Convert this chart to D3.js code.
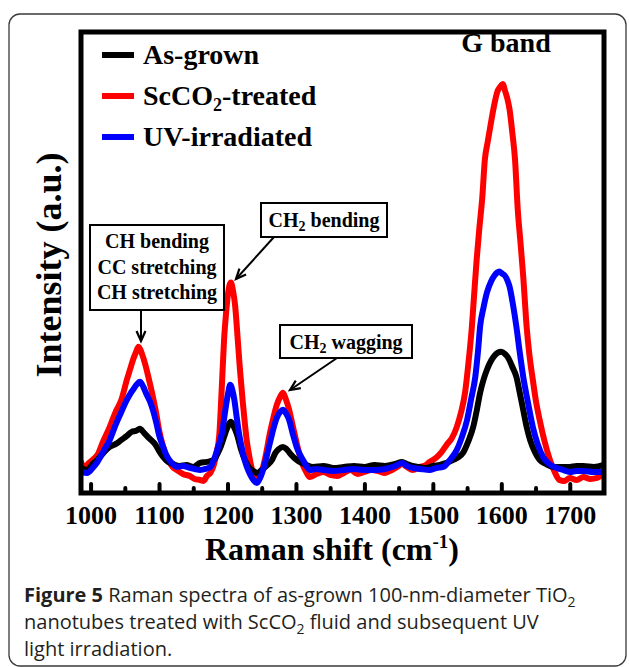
<!DOCTYPE html>
<html><head><meta charset="utf-8">
<script src="https://cdn.jsdelivr.net/npm/d3@7"></script>
<style>body{margin:0;background:#fff}svg{display:block}</style>
</head><body><svg id="c" width="629" height="667"></svg>
<script>
// ---- data (Raman shift cm-1, intensity a.u.) ----
const seriesNames = ["As-grown", "ScCO2-treated", "UV-irradiated"];
const seriesColors = ["#000000", "#ff0000", "#0000ff"];
const majorTicks = [1000, 1100, 1200, 1300, 1400, 1500, 1600, 1700];
const minorTicks = [1050, 1150, 1250, 1350, 1450, 1550, 1650];

const asGrown = [[986,25],[995,23],[1003,29],[1010,33],[1020,41],[1028,46],[1037,49],[1045,53],[1053,57],[1060,61],[1066,62],[1072,64],[1078,60],[1085,55],[1095,48],[1100,42],[1106,36],[1113,31],[1120,29],[1130,27],[1140,28],[1150,26],[1160,30],[1170,31],[1180,33],[1186,40],[1190,46],[1195,56],[1199,64],[1205,71],[1210,65],[1214,58],[1220,43],[1226,32],[1232,25],[1238,22],[1243,20],[1250,23],[1257,27],[1265,33],[1270,40],[1275,44],[1281,46],[1286,44],[1292,39],[1301,33],[1308,30],[1315,28],[1325,26],[1340,27],[1355,25],[1370,26],[1385,27],[1400,26],[1415,28],[1430,27],[1445,29],[1455,31],[1462,29],[1470,27],[1480,26],[1490,25],[1500,27],[1510,28],[1520,30],[1530,33],[1538,36],[1544,40],[1552,52],[1559,66],[1564,82],[1569,100],[1574,113],[1579,123],[1585,132],[1590,137],[1595,140],[1600,141],[1605,139],[1610,135],[1616,126],[1622,116],[1627,100],[1632,83],[1637,66],[1642,53],[1649,41],[1656,33],[1665,29],[1676,26],[1688,26],[1700,26],[1710,27],[1720,27],[1735,26],[1750,28]];

const scTreated = [[986,31],[992,24],[995,28],[1003,33],[1010,38],[1018,51],[1028,66],[1036,80],[1045,93],[1053,113],[1058,124],[1062,133],[1066,140],[1070,146],[1075,139],[1080,128],[1085,114],[1091,96],[1096,79],[1100,63],[1106,46],[1110,37],[1115,31],[1120,26],[1126,23],[1135,19],[1145,17],[1152,14],[1160,13],[1165,12],[1170,17],[1175,20],[1180,28],[1184,40],[1188,58],[1192,110],[1195,153],[1198,180],[1201,200],[1205,210],[1208,202],[1211,188],[1215,153],[1218,125],[1222,93],[1225,72],[1228,53],[1232,36],[1236,23],[1240,16],[1243,13],[1247,15],[1250,21],[1256,38],[1262,60],[1267,75],[1272,88],[1277,96],[1281,100],[1285,94],[1290,83],[1295,68],[1301,50],[1305,39],[1310,28],[1315,21],[1320,16],[1330,19],[1340,21],[1350,18],[1360,17],[1370,20],[1380,23],[1390,19],[1400,21],[1410,23],[1420,22],[1430,20],[1440,23],[1448,26],[1455,29],[1462,26],[1470,23],[1481,26],[1490,28],[1495,31],[1500,33],[1506,36],[1513,41],[1520,48],[1528,55],[1535,66],[1541,80],[1547,100],[1552,130],[1557,166],[1560,195],[1564,233],[1568,265],[1572,293],[1576,333],[1580,350],[1584,366],[1589,385],[1594,400],[1598,405],[1602,408],[1606,400],[1609,393],[1612,383],[1616,360],[1620,333],[1624,283],[1628,250],[1632,216],[1637,166],[1641,138],[1646,113],[1651,90],[1656,73],[1663,52],[1671,33],[1678,21],[1685,13],[1692,12],[1700,15],[1710,13],[1720,16],[1730,14],[1740,15],[1746,18],[1750,23]];

const uvIrradiated = [[986,21],[995,20],[1003,25],[1010,31],[1020,43],[1028,53],[1036,67],[1045,81],[1053,93],[1058,99],[1062,103],[1067,108],[1072,111],[1077,106],[1082,98],[1087,91],[1091,83],[1096,70],[1100,58],[1106,46],[1110,39],[1115,33],[1120,29],[1126,26],[1135,27],[1145,25],[1152,24],[1160,23],[1168,24],[1175,26],[1180,33],[1185,43],[1189,52],[1192,60],[1195,74],[1198,88],[1201,100],[1204,108],[1207,103],[1210,93],[1213,78],[1216,63],[1220,48],[1225,33],[1230,23],[1235,16],[1239,12],[1243,10],[1247,14],[1252,23],[1257,36],[1262,50],[1267,64],[1272,75],[1277,81],[1281,83],[1285,80],[1290,73],[1295,60],[1301,46],[1306,38],[1312,31],[1316,26],[1320,23],[1330,24],[1340,23],[1355,22],[1370,23],[1385,24],[1400,23],[1415,23],[1430,24],[1445,27],[1455,30],[1462,27],[1470,25],[1482,24],[1495,23],[1505,25],[1515,26],[1525,33],[1535,43],[1543,57],[1550,73],[1556,94],[1562,116],[1566,142],[1569,166],[1574,185],[1579,200],[1585,211],[1590,217],[1594,220],[1597,221],[1601,219],[1605,217],[1609,212],[1612,206],[1617,188],[1622,166],[1627,140],[1632,116],[1639,90],[1646,66],[1653,49],[1661,36],[1670,29],[1681,25],[1690,23],[1700,21],[1710,22],[1720,22],[1735,21],[1750,21]];

const seriesData = [scTreated, asGrown, uvIrradiated]; // drawing order
const seriesDataColors = ["#ff0000", "#000000", "#0000ff"];

// ---- layout ----
const svg = d3.select("#c");
const serif = "'Liberation Serif','Times New Roman',serif";
const L = 81, R = 604, T = 32, B = 493;
const x = d3.scaleLinear().domain([986, 1750]).range([L, R]);
const y = d3.scaleLinear().domain([0, 460]).range([B, T]);

// outer rounded frame
svg.append("rect").attr("x", 9).attr("y", 14).attr("width", 617).attr("height", 652)
  .attr("rx", 11).attr("fill", "none").attr("stroke", "#3a3a3a").attr("stroke-width", 1.3);

svg.append("defs").append("clipPath").attr("id", "clip")
  .append("rect").attr("x", L).attr("y", T).attr("width", R - L).attr("height", B - T);

// lines
const line = d3.line().x(d => x(d[0])).y(d => y(d[1])).curve(d3.curveMonotoneX);
const g = svg.append("g").attr("clip-path", "url(#clip)");
seriesData.forEach((s, i) => {
  g.append("path").datum(s).attr("d", line).attr("fill", "none")
    .attr("stroke", seriesDataColors[i]).attr("stroke-width", 6)
    .attr("stroke-linejoin", "round").attr("stroke-linecap", "round");
});

// axes
const ax = svg.append("g").attr("transform", `translate(0,${B})`)
  .call(d3.axisBottom(x).tickValues(majorTicks).tickSize(-9).tickPadding(13).tickFormat(d3.format("d")));
ax.select(".domain").remove();
ax.selectAll("line").attr("stroke", "#000").attr("stroke-width", 4).attr("stroke-linecap", "round");
ax.selectAll("text").attr("font-family", serif).attr("font-weight", "bold").attr("font-size", 26).attr("fill", "#000");
const axm = svg.append("g").attr("transform", `translate(0,${B})`)
  .call(d3.axisBottom(x).tickValues(minorTicks).tickSize(-5).tickFormat(""));
axm.select(".domain").remove();
axm.selectAll("line").attr("stroke", "#000").attr("stroke-width", 4).attr("stroke-linecap", "round");

// plot frame
svg.append("rect").attr("x", L).attr("y", T).attr("width", R - L).attr("height", B - T)
  .attr("fill", "none").attr("stroke", "#000").attr("stroke-width", 5);

// axis titles
const xt = svg.append("text").attr("x", 332).attr("y", 560).attr("text-anchor", "middle")
  .attr("font-family", serif).attr("font-weight", "bold").attr("font-size", 32);
xt.append("tspan").text("Raman shift (cm");
xt.append("tspan").attr("dy", -12).attr("font-size", 19).text("-1");
xt.append("tspan").attr("dy", 12).text(")");

svg.append("text").attr("transform", "translate(61,265) rotate(-90)").attr("text-anchor", "middle")
  .attr("font-family", serif).attr("font-weight", "bold").attr("font-size", 36).text("Intensity (a.u.)");

// legend
const legY = [55, 96, 137];
const legendLabels = [["As-grown"], ["ScCO", "2", "-treated"], ["UV-irradiated"]];
legendLabels.forEach((lab, i) => {
  svg.append("line").attr("x1", 102).attr("x2", 134).attr("y1", legY[i]).attr("y2", legY[i])
    .attr("stroke", seriesColors[i]).attr("stroke-width", 6);
  const t = svg.append("text").attr("x", 143).attr("y", legY[i] + 9)
    .attr("font-family", serif).attr("font-weight", "bold").attr("font-size", 28);
  if (lab.length === 1) t.text(lab[0]);
  else {
    t.append("tspan").text(lab[0]);
    t.append("tspan").attr("dy", 6).attr("font-size", 18).text(lab[1]);
    t.append("tspan").attr("dy", -6).text(lab[2]);
  }
});

// annotations
svg.append("text").attr("x", 506).attr("y", 52).attr("text-anchor", "middle")
  .attr("font-family", serif).attr("font-weight", "bold").attr("font-size", 28).text("G band");

function box(x0, y0, w, h) {
  svg.append("rect").attr("x", x0).attr("y", y0).attr("width", w).attr("height", h)
    .attr("fill", "#fff").attr("stroke", "#000").attr("stroke-width", 2);
}
function arrow(x1, y1, x2, y2) {
  svg.append("line").attr("x1", x1).attr("y1", y1).attr("x2", x2).attr("y2", y2)
    .attr("stroke", "#000").attr("stroke-width", 2);
  const a = Math.atan2(y2 - y1, x2 - x1), len = 11, sp = 0.42;
  const p = [[x2 - len * Math.cos(a - sp), y2 - len * Math.sin(a - sp)], [x2, y2],
             [x2 - len * Math.cos(a + sp), y2 - len * Math.sin(a + sp)]];
  svg.append("path").attr("d", d3.line()(p)).attr("fill", "none").attr("stroke", "#000")
    .attr("stroke-width", 2.2).attr("stroke-linejoin", "miter");
}
const annFont = 20;
box(90, 225, 134, 85);
["CH bending", "CC stretching", "CH stretching"].forEach((s, i) => {
  svg.append("text").attr("x", 157).attr("y", 248 + i * 25.5).attr("text-anchor", "middle")
    .attr("font-family", serif).attr("font-weight", "bold").attr("font-size", annFont).text(s);
});
arrow(141, 310, 141, 341);

box(261, 203, 126, 34);
{
  const t = svg.append("text").attr("x", 324).attr("y", 227).attr("text-anchor", "middle")
    .attr("font-family", serif).attr("font-weight", "bold").attr("font-size", annFont);
  t.append("tspan").text("CH");
  t.append("tspan").attr("dy", 4).attr("font-size", 14).text("2");
  t.append("tspan").attr("dy", -4).text(" bending");
}
arrow(274, 237, 236, 279);

box(280, 325, 132, 33);
{
  const t = svg.append("text").attr("x", 346).attr("y", 349).attr("text-anchor", "middle")
    .attr("font-family", serif).attr("font-weight", "bold").attr("font-size", annFont);
  t.append("tspan").text("CH");
  t.append("tspan").attr("dy", 4).attr("font-size", 14).text("2");
  t.append("tspan").attr("dy", -4).text(" wagging");
}
arrow(337, 358, 290, 390);

// caption
const capFont = "'Open Sans','Noto Sans',sans-serif";
const cap = svg.append("g").attr("font-family", capFont).attr("font-size", 20).attr("fill", "#231f20");
{
  const t1 = cap.append("text").attr("x", 24).attr("y", 602);
  t1.append("tspan").attr("font-weight", "bold").text("Figure 5");
  t1.append("tspan").text(" Raman spectra of as-grown 100-nm-diameter TiO");
  t1.append("tspan").attr("dy", 5).attr("font-size", 14).text("2");
  const t2 = cap.append("text").attr("x", 24).attr("y", 629);
  t2.append("tspan").text("nanotubes treated with ScCO");
  t2.append("tspan").attr("dy", 5).attr("font-size", 14).text("2");
  t2.append("tspan").attr("dy", -5).text(" fluid and subsequent UV");
  cap.append("text").attr("x", 24).attr("y", 656).text("light irradiation.");
}
</script></body></html>
